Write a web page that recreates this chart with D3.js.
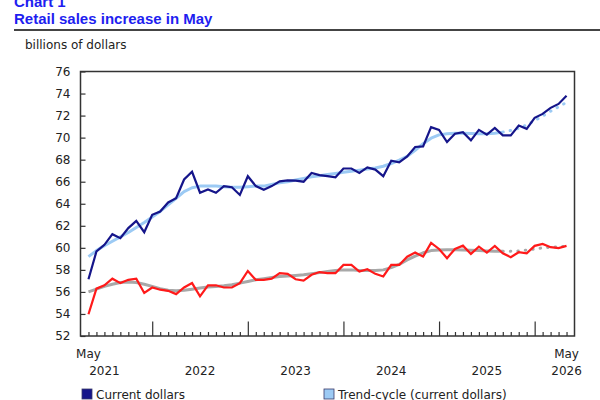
<!DOCTYPE html>
<html>
<head>
<meta charset="utf-8">
<script src="https://cdn.jsdelivr.net/npm/d3@7"></script>
<style>
    body { margin: 0; background: #fff; }
    svg { display: block; }
    .tick text { font-family: "DejaVu Sans", Verdana, sans-serif; font-size: 12px; fill: #222; }
</style>
</head>
<body>
<div id="chart"></div>
<script>

// Monthly categories, May 2021 to May 2026
var months = d3.timeMonth.range(new Date(2021, 4, 1), new Date(2026, 5, 1)).map(d3.timeFormat("%Y-%m"));

// Retail sales, billions of dollars
var currentDollars = [57.15, 59.67, 60.27, 61.24, 60.88, 61.79, 62.45, 61.42, 63.0, 63.3,
    64.12, 64.5, 66.2, 66.9, 65.0, 65.3, 65.0, 65.6, 65.5, 64.8,
    66.5, 65.6, 65.27, 65.6, 66.03, 66.12, 66.1, 66.0, 66.8, 66.6,
    66.5, 66.4, 67.2, 67.2, 66.8, 67.3, 67.1, 66.5, 67.9, 67.75,
    68.3, 69.15, 69.2, 70.95, 70.7, 69.6, 70.36, 70.5, 69.75, 70.7,
    70.27, 70.88, 70.2, 70.2, 71.1, 70.8, 71.8, 72.15, 72.7, 73.06,
    73.8];
var trendCurrent = [59.2, 59.75, 60.2, 60.6, 61.0, 61.4, 61.85, 62.3, 62.8, 63.3,
    63.9, 64.5, 65.1, 65.45, 65.6, 65.6, 65.6, 65.55, 65.5, 65.5,
    65.55, 65.6, 65.6, 65.75, 65.9, 66.0, 66.15, 66.3, 66.45, 66.55,
    66.65, 66.75, 66.85, 66.95, 67.05, 67.15, 67.25, 67.4, 67.65, 67.95,
    68.3, 68.85, 69.45, 69.95, 70.25, 70.35, 70.4, 70.4, 70.38, 70.36,
    70.36, 70.4, 70.5, 70.65, 70.85, 71.15, 71.55, 71.95, 72.4, 72.8,
    73.2];
var constantDollars = [53.97, 56.3, 56.6, 57.2, 56.8, 57.1, 57.2, 55.9, 56.4, 56.2,
    56.1, 55.8, 56.4, 56.8, 55.6, 56.6, 56.6, 56.4, 56.4, 56.8,
    57.9, 57.1, 57.1, 57.2, 57.7, 57.64, 57.15, 57.03, 57.55, 57.8,
    57.7, 57.7, 58.45, 58.45, 57.85, 58.06, 57.64, 57.4, 58.45, 58.45,
    59.2, 59.57, 59.2, 60.45, 59.9, 59.06, 59.9, 60.2, 59.45, 60.1,
    59.57, 60.18, 59.5, 59.15, 59.6, 59.5, 60.18, 60.36, 60.06, 59.97,
    60.18];
var trendConstant = [56.0, 56.25, 56.5, 56.7, 56.85, 56.9, 56.85, 56.7, 56.5, 56.3,
    56.15, 56.1, 56.15, 56.25, 56.35, 56.45, 56.5, 56.55, 56.65, 56.8,
    56.95, 57.1, 57.2, 57.3, 57.4, 57.45, 57.5, 57.55, 57.65, 57.75,
    57.85, 57.95, 58.0, 58.0, 57.95, 57.95, 57.95, 58.0, 58.2, 58.5,
    58.9, 59.25, 59.55, 59.75, 59.8, 59.82, 59.82, 59.8, 59.78, 59.75,
    59.72, 59.7, 59.7, 59.7, 59.72, 59.8, 59.9, 60.0, 60.05, 60.1,
    60.15];

// The last months of the trend-cycle are drawn dotted
var trendSolidEnd = "2025-09";

// Axis labels
var yTicks = [52, 54, 56, 58, 60, 62, 64, 66, 68, 70, 72, 74, 76];
var monthLabels = ["May", "May"];
var monthLabelAt = ["2021-05", "2026-05"];
var yearLabels = ["2021", "2022", "2023", "2024", "2025", "2026"];
var yearLabelAt = ["2021-07", "2022-07", "2023-07", "2024-07", "2025-07", "2026-05"];

// Legend (first row)
var legendNames = ["Current dollars", "Trend-cycle (current dollars)"];
var legendColors = ["#15158a", "#9ccaf4"];

// Chart frame
var properties = {
    width: 600,
    height: 400,
    plot: { left: 80.5, right: 574.5, top: 71.5, bottom: 336 }
};

var svg = d3.select("#chart")
    .append("svg")
    .attr("width", properties.width)
    .attr("height", properties.height);

// Title block
svg.append("text")
    .attr("x", 14).attr("y", 7)
    .attr("font-family", "Liberation Sans, Arial, sans-serif")
    .attr("font-size", 15).attr("font-weight", "bold")
    .attr("fill", "#1e1ef0")
    .text("Chart 1");

svg.append("text")
    .attr("x", 14).attr("y", 24)
    .attr("font-family", "Liberation Sans, Arial, sans-serif")
    .attr("font-size", 15).attr("font-weight", "bold")
    .attr("fill", "#1e1ef0")
    .text("Retail sales increase in May");

svg.append("line")
    .attr("x1", 14).attr("x2", 600)
    .attr("y1", 30).attr("y2", 30)
    .attr("stroke", "#444").attr("stroke-width", 2);

svg.append("text")
    .attr("x", 25).attr("y", 49)
    .attr("font-family", "DejaVu Sans, Verdana, sans-serif")
    .attr("font-size", 12)
    .attr("fill", "#222")
    .text("billions of dollars");

// Scales
var xScale = d3.scalePoint()
    .domain(months)
    .range([properties.plot.left, properties.plot.right])
    .padding(1);

var yScale = d3.scaleLinear()
    .domain([52, 76])
    .range([properties.plot.bottom, properties.plot.top]);

// Y axis, ticks pointing inside
svg.append("g")
    .attr("class", "y axis")
    .attr("transform", "translate(" + properties.plot.left + ",0)")
    .call(d3.axisLeft(yScale).tickValues(yTicks).tickSize(-5).tickPadding(10))
    .call(function (g) { g.select(".domain").remove(); })
    .call(function (g) { g.selectAll(".tick line").attr("stroke", "#333").attr("stroke-width", 1.2); });

// X axis, a small tick each month and a tall one each January
svg.append("g")
    .attr("class", "x axis")
    .attr("transform", "translate(0," + properties.plot.bottom + ")")
    .call(d3.axisBottom(xScale).tickSize(-4).tickFormat(""))
    .call(function (g) { g.select(".domain").remove(); })
    .call(function (g) {
        g.selectAll(".tick line")
            .attr("stroke", "#333")
            .attr("stroke-width", 1.2)
            .attr("y2", function (d) { return d.slice(5) === "01" ? -14.5 : -4; });
    });

var labelFont = "DejaVu Sans, Verdana, sans-serif";

svg.append("g").selectAll("text")
    .data(monthLabels)
    .enter().append("text")
    .attr("x", function (d, i) { return xScale(monthLabelAt[i]); })
    .attr("y", 358)
    .attr("text-anchor", "middle")
    .attr("font-family", labelFont).attr("font-size", 12).attr("fill", "#222")
    .text(function (d) { return d; });

svg.append("g").selectAll("text")
    .data(yearLabels)
    .enter().append("text")
    .attr("x", function (d, i) { return xScale(yearLabelAt[i]); })
    .attr("y", 375)
    .attr("text-anchor", "middle")
    .attr("font-family", labelFont).attr("font-size", 12).attr("fill", "#222")
    .text(function (d) { return d; });

// Lines
var line = d3.line()
    .x(function (d) { return xScale(d.month); })
    .y(function (d) { return yScale(d.value); });

function toPoints(values) {
    return values.map(function (v, i) { return { month: months[i], value: v }; });
}

var cut = months.indexOf(trendSolidEnd);

function drawTrend(values, color) {
    var pts = toPoints(values);
    svg.append("path")
        .datum(pts.slice(0, cut + 1))
        .attr("fill", "none").attr("stroke", color)
        .attr("stroke-width", 3).attr("stroke-linejoin", "round")
        .attr("d", line);
    svg.append("path")
        .datum(pts.slice(cut))
        .attr("fill", "none").attr("stroke", color)
        .attr("stroke-width", 3).attr("stroke-linecap", "round")
        .attr("stroke-dasharray", "0.5,7")
        .attr("d", line);
}

function drawSeries(values, color) {
    svg.append("path")
        .datum(toPoints(values))
        .attr("fill", "none").attr("stroke", color)
        .attr("stroke-width", 2.2).attr("stroke-linejoin", "miter")
        .attr("d", line);
}

drawTrend(trendCurrent, "#9ccaf4");
drawTrend(trendConstant, "#a8a8a8");
drawSeries(currentDollars, "#15158a");
drawSeries(constantDollars, "#ff1a1a");

// Frame
svg.append("rect")
    .attr("x", properties.plot.left).attr("y", properties.plot.top)
    .attr("width", properties.plot.right - properties.plot.left)
    .attr("height", properties.plot.bottom - properties.plot.top)
    .attr("fill", "none").attr("stroke", "#333").attr("stroke-width", 1.5);

// Legend
var legend = svg.append("g").selectAll(".legend-item")
    .data(legendNames)
    .enter().append("g")
    .attr("class", "legend-item")
    .attr("transform", function (d, i) { return "translate(" + (i === 0 ? 82 : 324) + ",389)"; });

legend.append("rect")
    .attr("width", 10).attr("height", 10)
    .attr("fill", function (d, i) { return legendColors[i]; })
    .attr("stroke", "#3a3a6a").attr("stroke-width", 0.8);

legend.append("text")
    .attr("x", 14).attr("y", 9.5)
    .attr("font-family", labelFont).attr("font-size", 12).attr("fill", "#222")
    .text(function (d) { return d; });

</script>
</body>
</html>
